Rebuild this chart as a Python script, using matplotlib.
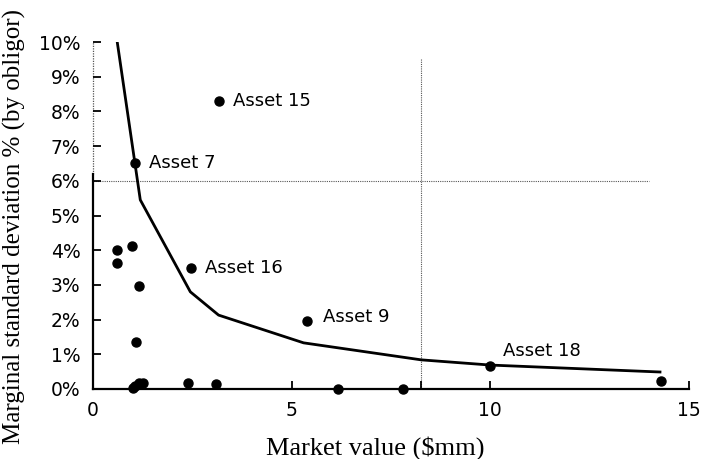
"""Marginal standard deviation vs market value scatter."""

import matplotlib

matplotlib.use("Agg")
from matplotlib import pyplot as plt
from matplotlib.ticker import FuncFormatter

# assets (market value $mm, marginal std dev %)
asset_x = [3.18, 1.06, 2.47, 5.38, 10.0, 14.3, 0.61, 0.61, 0.98, 1.16, 1.07,
           1.01, 1.06, 1.16, 1.26, 2.40, 3.10, 6.16, 7.80]
asset_y = [8.30, 6.50, 3.50, 1.96, 0.66, 0.23, 4.00, 3.63, 4.12, 2.97, 1.35,
           0.03, 0.08, 0.17, 0.17, 0.17, 0.15, 0.00, 0.00]
labelled = {0: "Asset 15", 1: "Asset 7", 2: "Asset 16", 3: "Asset 9", 4: "Asset 18"}

# efficient frontier style curve
curve_x = [0.61, 1.19, 2.45, 3.16, 5.30, 8.26, 10.0, 14.27]
curve_y = [10.0, 5.45, 2.80, 2.13, 1.33, 0.84, 0.69, 0.49]

# threshold lines
limit_std = 6.0
limit_std_end = 14.0
limit_value = 8.26
limit_value_top = 9.55

SANS = "DejaVu Sans"
SERIF = "Liberation Serif"

fig = plt.figure(figsize=(7.03, 4.59), dpi=100)
ax = fig.add_axes([93 / 703, 1 - 389 / 459, (689 - 93) / 703, (389 - 42) / 459])

ax.plot([0, limit_std_end], [limit_std, limit_std], color="#555555",
        lw=0.8, ls=(0, (1, 1)), zorder=1)
ax.plot([limit_value, limit_value], [0, limit_value_top], color="#555555",
        lw=0.8, ls=(0, (1, 1)), zorder=1)
ax.plot([0, 0], [6.2, 10], color="#555555", lw=0.9, ls=(0, (1, 1)),
        zorder=1, clip_on=False)

ax.plot(curve_x, curve_y, color="black", lw=2.0, zorder=2)
ax.plot(asset_x, asset_y, "o", color="black", ms=6.5, zorder=3, clip_on=False)

offsets = {"Asset 18": (9, 11), "Asset 9": (12, 3)}
for i, name in labelled.items():
    ax.annotate(name, (asset_x[i], asset_y[i]), xytext=offsets.get(name, (10, 0)),
                textcoords="offset points", va="center", ha="left",
                fontsize=13, family=SANS)

ax.set_xlim(0, 15)
ax.set_ylim(0, 10)
ax.set_xticks([0, 5, 10, 15])
ax.set_xticks([limit_value], minor=True)
ax.set_yticks(range(0, 11))
ax.yaxis.set_major_formatter(FuncFormatter(lambda v, _: f"{v:.0f}%"))

for side in ("top", "right"):
    ax.spines[side].set_visible(False)
ax.spines["left"].set_bounds(0, 6.2)
ax.spines["left"].set_linewidth(1.6)
ax.spines["bottom"].set_linewidth(1.6)

ax.tick_params(axis="both", which="both", direction="in", length=6, width=1.3,
               labelsize=13.5, pad=9)
for lbl in ax.get_xticklabels() + ax.get_yticklabels():
    lbl.set_family(SANS)

fig.text(375 / 703, 1 - 448 / 459, "Market value ($mm)", ha="center",
         va="center", fontsize=19, family=SERIF)
fig.text(14 / 703, 1 - 226 / 459, "Marginal standard deviation % (by obligor)",
         ha="center", va="center", rotation=90, fontsize=18, family=SERIF)

fig.savefig("out.png", dpi=100)
